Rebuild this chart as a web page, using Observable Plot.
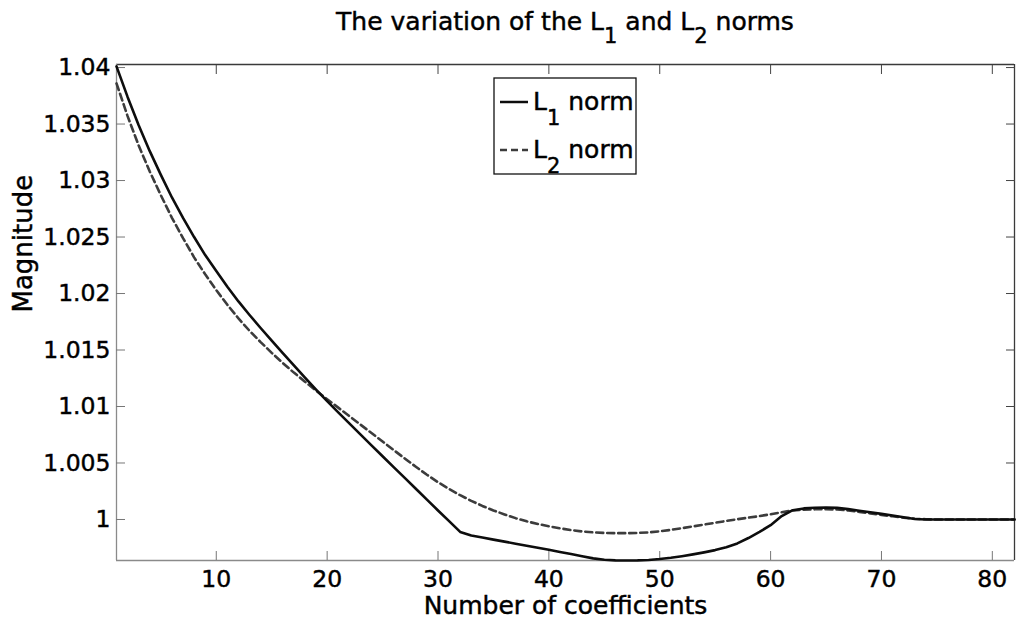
<!DOCTYPE html>
<html><head><meta charset="utf-8">
<script src="https://cdn.jsdelivr.net/npm/d3@7"></script>
<script src="https://cdn.jsdelivr.net/npm/@observablehq/plot@0.6"></script>
<style>html,body{margin:0;padding:0;background:#fff;} svg{display:block;}
svg text{stroke:#000;stroke-width:0.45px;}</style>
</head><body><div id="chart"></div>
<script>
const coefficients = d3.range(1, 83);
const l1Norm = [
  1.0401, 1.0374, 1.0349, 1.0326, 1.0305, 1.0285, 1.0267, 1.0250, 1.0234, 1.0220,
  1.0206, 1.0193, 1.0181, 1.01695, 1.01583, 1.01472, 1.01363, 1.01256, 1.0115, 1.01048,
  1.00948, 1.0085, 1.00753, 1.00656, 1.0056, 1.00464, 1.00368, 1.00272, 1.00176, 1.0008,
  0.99985, 0.9989, 0.99858, 0.99840, 0.99822, 0.99804, 0.99786, 0.99768, 0.99750, 0.99732,
  0.99713, 0.99694, 0.99674, 0.99656, 0.99643, 0.99638, 0.99637, 0.99638, 0.99642, 0.99650,
  0.99661, 0.99675, 0.99691, 0.99709, 0.99729, 0.99754, 0.99788, 0.99836, 0.99890, 0.99950,
  1.00030, 1.00082, 1.00098, 1.00104, 1.00105, 1.00103, 1.00092, 1.00078, 1.00064, 1.00050,
  1.00036, 1.00020, 1.00004, 1.00000, 1.00000, 1.00000, 1.00000, 1.00000, 1.00000, 1.00000,
  1.00000, 1.00000
];
const l2Norm = [
  1.0386, 1.0357, 1.0331, 1.0308, 1.0287, 1.0267, 1.0249, 1.0232, 1.0217, 1.0203,
  1.0190, 1.0178, 1.0167, 1.0157, 1.01475, 1.01385, 1.0130, 1.0122, 1.0114, 1.01065,
  1.0099, 1.00915, 1.0084, 1.00765, 1.0069, 1.00615, 1.0054, 1.00467, 1.00396, 1.0033,
  1.0027, 1.00215, 1.00165, 1.0012, 1.0008, 1.00045, 1.00012, 0.99984, 0.99960, 0.99940,
  0.99922, 0.99906, 0.99894, 0.99886, 0.99881, 0.99879, 0.99879, 0.99881, 0.99886, 0.99895,
  0.99908, 0.99923, 0.99939, 0.99955, 0.99971, 0.99987, 1.00002, 1.00016, 1.00030, 1.00046,
  1.00064, 1.00080, 1.00087, 1.00090, 1.00090, 1.00088, 1.00080, 1.00067, 1.00054, 1.00041,
  1.00028, 1.00016, 1.00007, 1.00002, 1.00000, 1.00000, 1.00000, 1.00000, 1.00000, 1.00000,
  1.00000, 1.00000
];
const xTicks = [10, 20, 30, 40, 50, 60, 70, 80];
const yTicks = [1, 1.005, 1.01, 1.015, 1.02, 1.025, 1.03, 1.035, 1.04];
const yTickLabels = ["1", "1.005", "1.01", "1.015", "1.02", "1.025", "1.03", "1.035", "1.04"];
const seriesBase = ["L", "L"];
const seriesSub = ["1", "2"];
const seriesRest = [" norm", " norm"];
const titleParts = ["The variation of the L", "1", " and L", "2", " norms"];
const xLabel = "Number of coefficients";
const yLabel = "Magnitude";

const rows = coefficients.map((n, i) => ({n, L1: l1Norm[i], L2: l2Norm[i]}));
const xDomain = [1, 82], yDomain = [0.99637, 1.04027];
const font = "DejaVu Sans";

const chart = Plot.plot({
  width: 1016, height: 624,
  marginLeft: 116, marginRight: 2, marginTop: 64, marginBottom: 64,
  style: {fontFamily: font, fontSize: "23.5px", background: "#fff", color: "#000", overflow: "visible"},
  x: {domain: xDomain},
  y: {domain: yDomain},
  marks: [
    Plot.ruleY([yDomain[1]], {stroke: "#3a3a3a", strokeWidth: 1.3}),
    Plot.ruleX([xDomain[1]], {stroke: "#3a3a3a", strokeWidth: 1.3}),
    Plot.ruleX([xDomain[0]], {stroke: "#8a8a8a", strokeWidth: 1.3}),
    Plot.ruleY([yDomain[0]], {stroke: "#8a8a8a", strokeWidth: 1.3}),
    Plot.axisX(xTicks, {anchor: "bottom", tickSize: -9, tickFormat: () => "", label: null, stroke: "#777"}),
    Plot.axisX(xTicks, {anchor: "top", tickSize: -9, tickFormat: () => "", label: null, stroke: "#444"}),
    Plot.axisY(yTicks, {anchor: "left", tickSize: -9, tickFormat: () => "", label: null, stroke: "#777"}),
    Plot.axisY(yTicks, {anchor: "right", tickSize: -9, tickFormat: () => "", label: null, stroke: "#444"}),
    Plot.axisX(xTicks, {anchor: "bottom", tickSize: 0, tickPadding: 10, label: null, fill: "#000"}),
    Plot.axisY(yTicks, {anchor: "left", tickSize: 0, tickPadding: 6, label: null, fill: "#000",
      tickFormat: d => yTickLabels[yTicks.indexOf(d)]}),
    Plot.line(rows, {x: "n", y: "L2", stroke: "#3c3c3c", strokeWidth: 2.6, strokeDasharray: "7,4"}),
    Plot.line(rows, {x: "n", y: "L1", stroke: "#0d0d0d", strokeWidth: 2.6}),
    Plot.text([xLabel], {text: d => d, frameAnchor: "bottom", lineAnchor: "top", dy: 36, fontSize: 25, fill: "#000"}),
    Plot.text([yLabel], {text: d => d, frameAnchor: "left", rotate: -90, lineAnchor: "bottom", dx: -85, fontSize: 26, fill: "#000"})
  ]
});
document.getElementById("chart").appendChild(chart);

const svg = d3.select(chart);
const xr = chart.scale("x").range;
const cx = (xr[0] + xr[1]) / 2;

// title with subscripts
const t = svg.append("text").attr("x", cx).attr("y", 30).attr("text-anchor", "middle")
  .attr("font-family", font).attr("font-size", 25).attr("fill", "#000");
titleParts.forEach((p, i) => {
  const ts = t.append("tspan").text(p);
  if (i % 2 === 1) ts.attr("font-size", 21).attr("dy", 13);
  else if (i > 0) ts.attr("dy", -13);
});

// legend
const lg = svg.append("g");
lg.append("rect").attr("x", 494).attr("y", 78).attr("width", 142).attr("height", 96)
  .attr("fill", "#fff").attr("stroke", "#111").attr("stroke-width", 1.3);
const styles = [{stroke: "#0d0d0d", dash: null}, {stroke: "#3c3c3c", dash: "7,4"}];
seriesBase.forEach((b, i) => {
  const y = 110 + i * 48;
  const ln = lg.append("line").attr("x1", 500).attr("x2", 528).attr("y1", y - 8).attr("y2", y - 8)
    .attr("stroke", styles[i].stroke).attr("stroke-width", 2.5);
  if (styles[i].dash) ln.attr("stroke-dasharray", styles[i].dash);
  const tx = lg.append("text").attr("x", 533).attr("y", y).attr("font-family", font)
    .attr("text-anchor", "start").attr("font-size", 25).attr("fill", "#000");
  tx.append("tspan").text(b);
  tx.append("tspan").attr("font-size", 21).attr("dy", 15).text(seriesSub[i]);
  tx.append("tspan").attr("dy", -15).text(seriesRest[i]);
});
</script>
</body></html>
